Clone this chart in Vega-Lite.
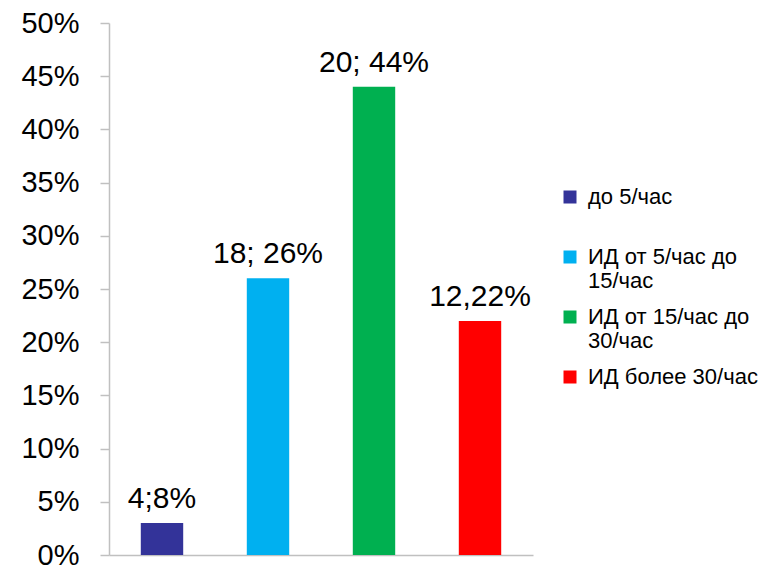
{
  "$schema": "https://vega.github.io/schema/vega-lite/v6.json",
  "width": 424,
  "height": 532,
  "autosize": "none",
  "padding": {"left": 109, "top": 23, "right": 246, "bottom": 14},
  "config": {"view": {"stroke": null}, "font": "Liberation Sans"},
  "data": {
    "values": [
      {"category": "до 5/час", "value": 0.03, "label": "4;8%"},
      {"category": "ИД от 5/час до 15/час", "value": 0.26, "label": "18; 26%"},
      {"category": "ИД от 15/час до 30/час", "value": 0.44, "label": "20; 44%"},
      {"category": "ИД более 30/час", "value": 0.22, "label": "12,22%"}
    ]
  },
  "encoding": {
    "x": {
      "field": "category", "type": "nominal", "sort": null,
      "scale": {"paddingInner": 0.6, "paddingOuter": 0.3},
      "axis": {"labels": false, "ticks": false, "title": null, "domainColor": "#c0c0c0", "domainWidth": 1.5}
    },
    "y": {
      "field": "value", "type": "quantitative",
      "scale": {"domain": [0, 0.5]},
      "axis": {
        "format": "0%", "values": [0, 0.05, 0.1, 0.15, 0.2, 0.25, 0.3, 0.35, 0.4, 0.45, 0.5],
        "title": null, "grid": false, "domainColor": "#c0c0c0", "domainWidth": 1.5,
        "tickColor": "#c0c0c0", "tickSize": 9, "tickWidth": 1.5,
        "labelFontSize": 29, "labelColor": "#000000", "labelPadding": 21
      }
    }
  },
  "layer": [
    {
      "mark": {"type": "bar"},
      "encoding": {
        "color": {
          "field": "category", "type": "nominal", "sort": null,
          "scale": {"range": ["#333399", "#00B0F0", "#00B050", "#FF0000"]},
          "legend": {
            "title": null, "orient": "none", "legendX": 450, "legendY": 163,
            "symbolType": "square", "symbolSize": 169, "symbolStrokeWidth": 0,
            "labelFontSize": 22, "labelColor": "#000000", "labelLimit": 0,
            "labelBaseline": "middle", "labelOffset": 7, "labelLineHeight": 28,
            "rowPadding": 14,
            "labelExpr": "datum.label === 'ИД от 5/час до 15/час' ? ['ИД от 5/час до', '15/час'] : datum.label === 'ИД от 15/час до 30/час' ? ['ИД от 15/час до', '30/час'] : [datum.label, '']"
          }
        }
      }
    },
    {
      "mark": {"type": "text", "baseline": "alphabetic", "dy": -15, "fontSize": 30, "color": "#000000"},
      "encoding": {"text": {"field": "label"}}
    }
  ]
}
